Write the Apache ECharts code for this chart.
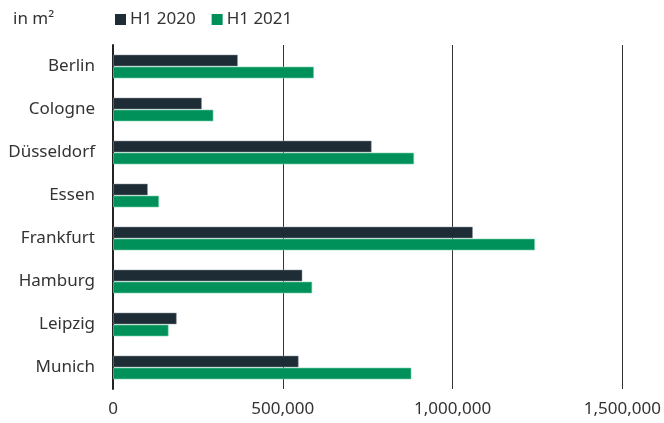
<!DOCTYPE html>
<html>
<head>
<meta charset="utf-8">
<script src="https://cdn.jsdelivr.net/npm/echarts@6/dist/echarts.min.js"></script>
<style>html,body{margin:0;padding:0;background:#fff}#c{width:664px;height:423px}</style>
</head>
<body>
<div id="c"></div>
<script>
const categories = ["Berlin","Cologne","Düsseldorf","Essen","Frankfurt","Hamburg","Leipzig","Munich"];
const seriesNames = ["H1 2020","H1 2021"];
const h1_2020 = [368000,262000,762000,103000,1060000,558000,188000,547000];
const h1_2021 = [592000,296000,887000,136000,1243000,587000,164000,879000];
const xTicks = [0,500000,1000000,1500000];
const unitLabel = "in m²";

const FONT = "Noto Sans";
const TXT = "#333";
const chart = echarts.init(document.getElementById('c'), null, {renderer:'canvas'});
chart.setOption({
  animation:false,
  textStyle:{fontFamily:FONT},
  title:{text:unitLabel,left:8,top:6,textStyle:{fontFamily:FONT,fontSize:17,fontWeight:'normal',color:TXT}},
  legend:{left:110,top:6,icon:'rect',itemWidth:11,itemHeight:11,itemGap:16,
    itemStyle:{borderWidth:0},
    textStyle:{fontFamily:FONT,fontSize:17,color:TXT,padding:[0,0,0,-1]},
    data:seriesNames},
  grid:{left:113,right:40,top:45,bottom:34,containLabel:false},
  xAxis:{type:'value',min:xTicks[0],max:xTicks[xTicks.length-1],interval:500000,
    axisLine:{show:false},axisTick:{show:false},
    splitLine:{show:true,lineStyle:{color:'#333',width:1}},
    axisLabel:{margin:12,fontFamily:FONT,fontSize:17,color:TXT,
      formatter:v=>v.toLocaleString('en-US')}},
  yAxis:{type:'category',data:categories,inverse:true,
    axisLine:{show:true,lineStyle:{color:'#222',width:2}},
    axisTick:{show:false},
    axisLabel:{margin:18,fontFamily:FONT,fontSize:17,color:TXT}},
  series:[
    {name:seriesNames[0],type:'bar',data:h1_2020,barWidth:12,barGap:'0%',
      itemStyle:{color:'#1e2c36',borderColor:'rgba(140,150,160,0.5)',borderWidth:1}},
    {name:seriesNames[1],type:'bar',data:h1_2021,barWidth:12,barGap:'0%',
      itemStyle:{color:'#00905a',borderColor:'rgba(120,210,170,0.6)',borderWidth:1}}
  ]
});
</script>
</body>
</html>
